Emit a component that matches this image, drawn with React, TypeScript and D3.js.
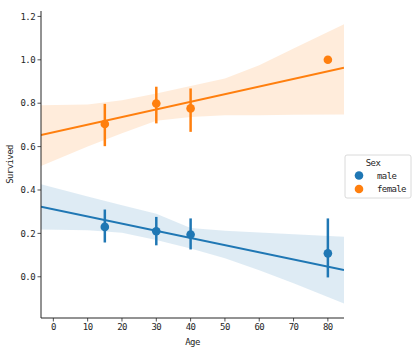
import React from "react";
import * as d3 from "d3";

const bins = [15, 30, 40, 80];
const sexes = ["male", "female"];
const colors = ["#1f77b4", "#ff7f0e"];

const maleMean = [0.23, 0.21, 0.195, 0.108];
const maleLo = [0.158, 0.145, 0.126, -0.003];
const maleHi = [0.31, 0.276, 0.269, 0.269];

const femaleMean = [0.704, 0.799, 0.776, 1.0];
const femaleLo = [0.602, 0.707, 0.668, 1.0];
const femaleHi = [0.797, 0.876, 0.868, 1.0];

const regX = [-3.6, 84.7];
const maleReg = [0.323, 0.031];
const femaleReg = [0.653, 0.963];

const bandX = [-3.6, 10, 20, 30, 40, 50, 60, 70, 84.7];
const maleBandHi = [0.427, 0.37, 0.33, 0.29, 0.225, 0.212, 0.204, 0.196, 0.184];
const maleBandLo = [0.218, 0.214, 0.203, 0.169, 0.13, 0.085, 0.03, -0.03, -0.123];
const femaleBandHi = [0.791, 0.794, 0.814, 0.845, 0.879, 0.914, 0.975, 1.052, 1.164];
const femaleBandLo = [0.511, 0.6, 0.661, 0.719, 0.737, 0.745, 0.745, 0.747, 0.748];

const xTicks = [0, 10, 20, 30, 40, 50, 60, 70, 80];
const yTicks = [0.0, 0.2, 0.4, 0.6, 0.8, 1.0, 1.2];

const series = [
  { mean: maleMean, lo: maleLo, hi: maleHi, reg: maleReg, bHi: maleBandHi, bLo: maleBandLo },
  { mean: femaleMean, lo: femaleLo, hi: femaleHi, reg: femaleReg, bHi: femaleBandHi, bLo: femaleBandLo },
];

const FONT = "'DejaVu Sans Mono', 'Liberation Mono', monospace";

export default function App() {
  const left = 41, right = 344, top = 11, bottom = 318;
  const x = d3.scaleLinear().domain([-3.6, 84.7]).range([left, right]);
  const y = d3.scaleLinear().domain([-0.19, 1.225]).range([bottom, top]);

  const area = d3
    .area<number>()
    .x((_, i) => x(bandX[i]))
    .y0((_, i) => 0)
    .y1((_, i) => 0);

  return (
    <svg
      width={416}
      height={352}
      style={{ position: "absolute", left: 0, top: 0, background: "#fff" }}
    >
      <defs>
        <clipPath id="plot">
          <rect x={left} y={top} width={right - left} height={bottom - top} />
        </clipPath>
      </defs>
      <g clipPath="url(#plot)">
        {series.map((s, k) => {
          const a = d3
            .area<number>()
            .x((d) => x(d))
            .y0((_, i) => y(s.bLo[i]))
            .y1((_, i) => y(s.bHi[i]));
          const l = d3
            .line<number>()
            .x((d) => x(d))
            .y((_, i) => y(s.reg[i]));
          return (
            <g key={k}>
              <path d={a(bandX) || ""} fill={colors[k]} fillOpacity={0.15} stroke="none" />
              <path d={l(regX) || ""} fill="none" stroke={colors[k]} strokeWidth={2} />
            </g>
          );
        })}
        {series.map((s, k) => (
          <g key={"p" + k}>
            {bins.map((b, i) => (
              <g key={i}>
                {s.hi[i] > s.lo[i] && (
                  <line
                    x1={x(b)}
                    x2={x(b)}
                    y1={y(s.lo[i])}
                    y2={y(s.hi[i])}
                    stroke={colors[k]}
                    strokeWidth={2.5}
                  />
                )}
                <circle cx={x(b)} cy={y(s.mean[i])} r={4.3} fill={colors[k]} />
              </g>
            ))}
          </g>
        ))}
      </g>

      {/* axes */}
      <line x1={left} x2={left} y1={top} y2={bottom} stroke="#262626" strokeWidth={1} />
      <line x1={left} x2={right} y1={bottom} y2={bottom} stroke="#262626" strokeWidth={1} />
      {xTicks.map((t) => (
        <g key={t}>
          <line x1={x(t)} x2={x(t)} y1={bottom} y2={bottom + 3.5} stroke="#262626" strokeWidth={0.8} />
          <text
            x={x(t)}
            y={bottom + 12}
            textAnchor="middle"
            fontFamily={FONT}
            fontSize={9}
            letterSpacing={-0.6}
            fill="#262626"
          >
            {t}
          </text>
        </g>
      ))}
      {yTicks.map((t) => (
        <g key={t}>
          <line x1={left - 3.5} x2={left} y1={y(t)} y2={y(t)} stroke="#262626" strokeWidth={0.8} />
          <text
            x={left - 6}
            y={y(t)}
            dy="0.35em"
            textAnchor="end"
            fontFamily={FONT}
            fontSize={9}
            letterSpacing={-0.6}
            fill="#262626"
          >
            {t.toFixed(1)}
          </text>
        </g>
      ))}
      <text
        x={(left + right) / 2}
        y={345}
        textAnchor="middle"
        fontFamily={FONT}
        fontSize={9}
        letterSpacing={-0.6}
        fill="#262626"
      >
        Age
      </text>
      <text
        transform={`translate(13,${(top + bottom) / 2}) rotate(-90)`}
        textAnchor="middle"
        fontFamily={FONT}
        fontSize={9}
        letterSpacing={-0.6}
        fill="#262626"
      >
        Survived
      </text>

      {/* legend */}
      <rect x={345} y={155} width={66} height={43} rx={2} fill="#fff" stroke="#d0d0d0" strokeWidth={0.8} />
      <text x={373} y={166} textAnchor="middle" fontFamily={FONT} fontSize={9} letterSpacing={-0.6} fill="#262626">
        Sex
      </text>
      {sexes.map((s, i) => (
        <g key={s}>
          <circle cx={359} cy={175.5 + i * 13.5} r={4.3} fill={colors[i]} />
          <text
            x={377}
            y={175.5 + i * 13.5}
            dy="0.35em"
            fontFamily={FONT}
            fontSize={9}
            letterSpacing={-0.6}
            fill="#262626"
          >
            {s}
          </text>
        </g>
      ))}
    </svg>
  );
}
